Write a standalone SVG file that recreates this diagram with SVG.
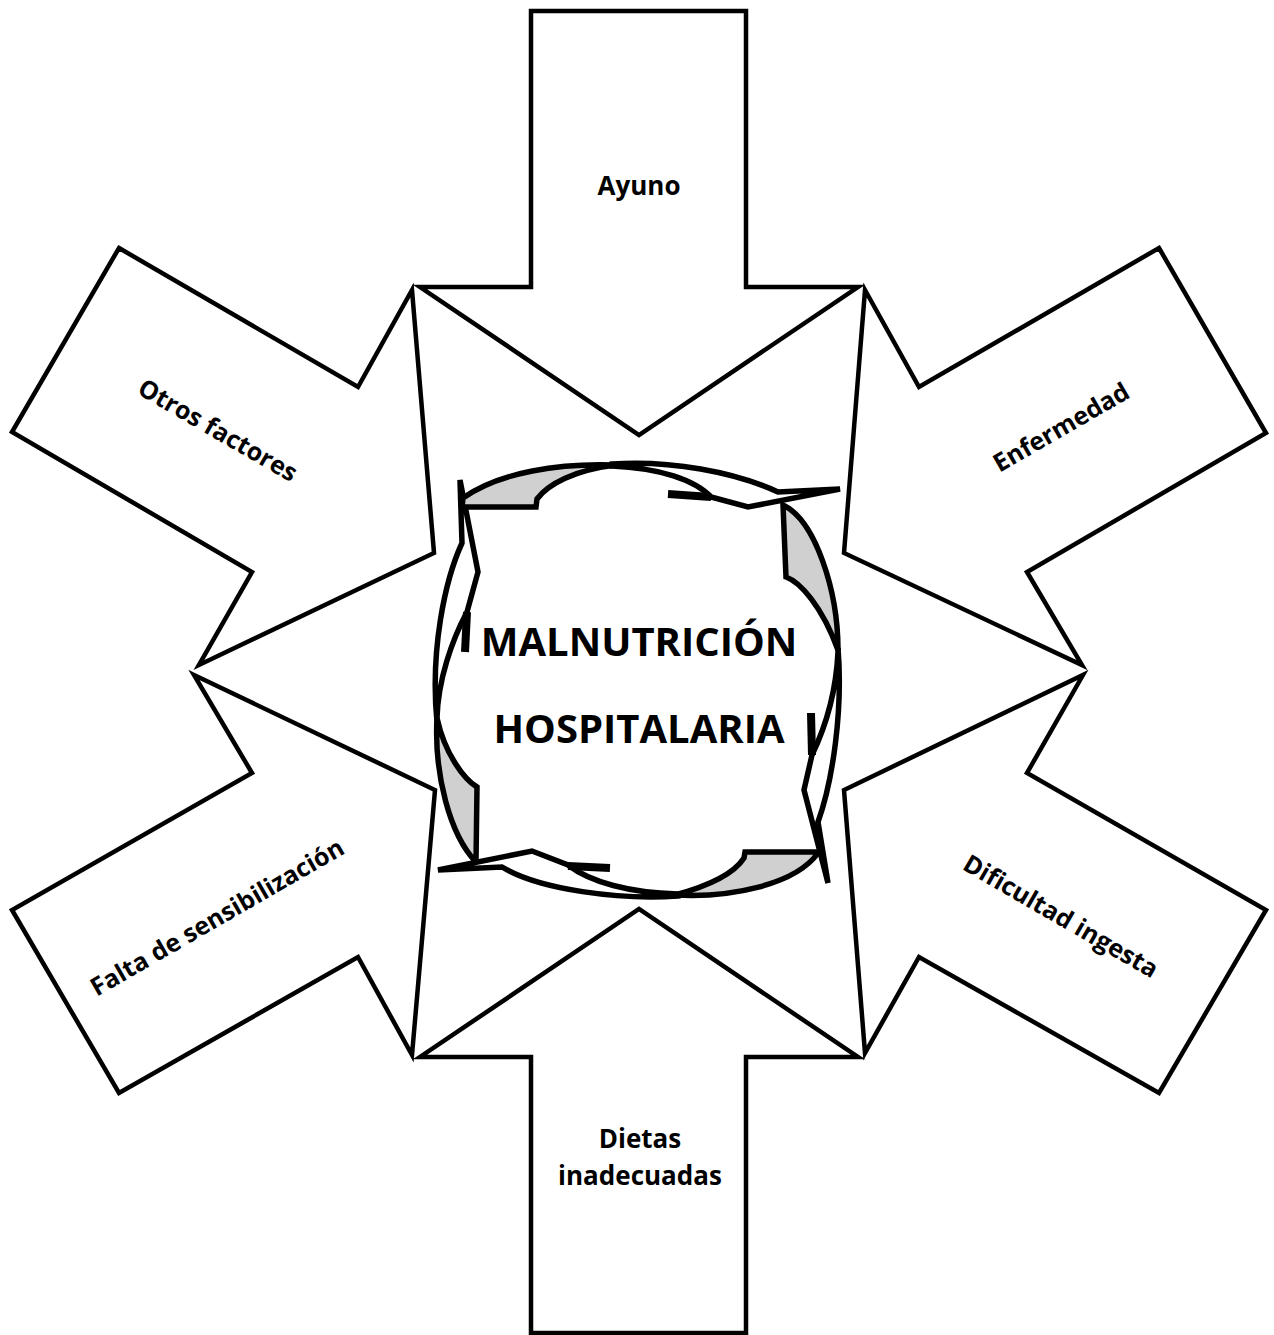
<svg xmlns="http://www.w3.org/2000/svg" width="1274" height="1335" viewBox="0 0 1274 1335">
<style>
.big{fill:#fff;stroke:#000;stroke-width:4.5;stroke-linejoin:miter;stroke-miterlimit:6}
.lbl{font-family:"Open Sans","Liberation Sans",sans-serif;font-weight:bold;fill:#000;text-anchor:middle}
.gray{fill:#d0d0d0;stroke:#000;stroke-width:5.5;stroke-linejoin:miter}
.wht{fill:#fff;stroke:#000;stroke-width:5.5;stroke-linejoin:miter}
.bar{fill:none;stroke:#000;stroke-width:8;stroke-linecap:butt}
.title{font-family:"Open Sans","Liberation Sans",sans-serif;font-weight:bold;font-size:40px;fill:#000;text-anchor:middle}
</style>
<rect width="1274" height="1335" fill="#fff"/>
<g id="ayuno">
<polygon class="big" points="531,11 746,11 746,287 858,287 639,435 420,287 531,287"/>
<text class="lbl" x="639" y="195" font-size="26">Ayuno</text>
</g>
<g id="dietas">
<polygon class="big" points="531,1333 746,1333 746,1057 858,1057 639,909 420,1057 531,1057"/>
<text class="lbl" x="640" y="1148" font-size="26">Dietas</text>
<text class="lbl" x="640" y="1185" font-size="26">inadecuadas</text>
</g>
<g id="otros">
<polygon class="big" points="119,248 358,387 412,290 434,553 199,665 252,572 12,432"/>
<text class="lbl" font-size="25" transform="translate(218,430) rotate(30)" y="9">Otros factores</text>
</g>
<g id="enfermedad">
<polygon class="big" points="1159,248 1266,433 1027,572 1082,665 844,553 865,290 919,387"/>
<text class="lbl" font-size="25" transform="translate(1061,427) rotate(-30)" y="9">Enfermedad</text>
</g>
<g id="falta">
<polygon class="big" points="194,675 435,790 412,1055 358,957 119,1093 12,910 252,773"/>
<text class="lbl" font-size="25" transform="translate(217,917) rotate(-30)" y="9">Falta de sensibilización</text>
</g>
<g id="dificultad">
<polygon class="big" points="1083,675 1027,773 1266,910 1159,1093 919,957 865,1053 844,790"/>
<text class="lbl" font-size="25" transform="translate(1061,916) rotate(30)" y="9">Dificultad ingesta</text>
</g>
<g id="malnutricion">
<g id="arrow-left">
<path class="gray" d="M476,862 L477,787 C465,780 445,755 437,718 C434,775 450,835 476,862 Z"/>
<path class="wht" d="M437,722 C430,650 445,580 462,543 L460,480 L478,572 L467,612 C452,640 438,680 437,718 Z"/>
<path class="bar" d="M467,612 L465,652"/>
</g>
<g id="arrow-top">
<path class="gray" d="M462,507 L536,507 L537,499 C548,484 575,470 615,465 C560,463 500,472 463,498 Z"/>
<path class="wht" d="M612,464 C670,460 735,472 778,492 L840,489 L748,507 L711,497 C695,480 660,468 612,466 Z"/>
<path class="bar" d="M668,494 L711,497"/>
</g>
<g id="arrow-right">
<path class="gray" d="M783,505 L786,577 C800,582 822,606 838,650 C838,590 815,520 783,505 Z"/>
<path class="wht" d="M838,648 C843,710 833,780 818,822 L828,883 L804,790 L812,755 C825,728 836,695 838,652 Z"/>
<path class="bar" d="M811,713 L812,755"/>
</g>
<g id="arrow-bottom">
<path class="gray" d="M818,852 L745,852 L744,858 C735,872 712,885 675,895 C730,898 795,885 818,853 Z"/>
<path class="wht" d="M678,896 C620,900 540,890 502,867 L438,870 L532,851 L568,865 C590,882 630,893 678,894 Z"/>
<path class="bar" d="M568,866 L610,868"/>
</g>
<text class="title" x="639" y="656">MALNUTRICIÓN</text>
<text class="title" x="639" y="743">HOSPITALARIA</text>
</g>
</svg>
